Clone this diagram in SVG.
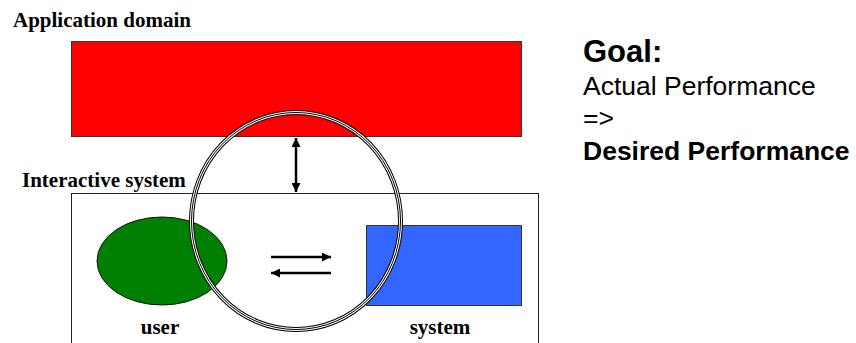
<svg xmlns="http://www.w3.org/2000/svg" width="856" height="343" viewBox="0 0 856 343">
<defs>
<style>
.lbl{font-family:"Liberation Serif","Times New Roman",serif;font-weight:bold;font-size:21px;fill:#000}
.goal{font-family:"Liberation Sans",Arial,sans-serif;fill:#000}
.conn{stroke:#000;stroke-width:2.5;fill:none}
</style>
<marker id="ah" viewBox="0 0 10 10" refX="10" refY="5" markerWidth="11" markerHeight="9" markerUnits="userSpaceOnUse" orient="auto-start-reverse">
<path d="M0,0 L10,5 L0,10 Z" fill="#000"/>
</marker>
</defs>
<rect width="856" height="343" fill="#fff"/>
<text class="lbl" x="13" y="27">Application domain</text>
<g id="application-domain">
<rect x="71.5" y="41.5" width="450" height="95" fill="#ff0000" stroke="#333" stroke-width="1"/>
</g>
<text class="lbl" x="22" y="187">Interactive system</text>
<g id="interactive-system">
<rect x="71.5" y="193.5" width="467" height="160" fill="#fff" stroke="#222" stroke-width="1"/>
</g>
<g id="user">
<ellipse cx="162" cy="261" rx="65" ry="44" fill="#008000" stroke="#111" stroke-width="1"/>
<text class="lbl" x="160" y="334" text-anchor="middle">user</text>
</g>
<g id="system">
<rect x="366.5" y="225.5" width="155" height="80" fill="#3366ff" stroke="#333" stroke-width="1"/>
<text class="lbl" x="440" y="334" text-anchor="middle">system</text>
</g>
<g id="connectors">
<line class="conn" x1="296" y1="138" x2="296" y2="192" marker-start="url(#ah)" marker-end="url(#ah)"/>
<line class="conn" x1="271" y1="257" x2="331" y2="257" marker-end="url(#ah)"/>
<line class="conn" x1="331" y1="273" x2="271" y2="273" marker-end="url(#ah)"/>
</g>
<g id="focus-circle" fill="none">
<ellipse cx="296" cy="221" rx="104.5" ry="108.5" stroke="#000" stroke-width="5"/>
<ellipse cx="296" cy="221" rx="104.5" ry="108.5" stroke="#fff" stroke-width="3"/>
<ellipse cx="296" cy="221" rx="104.5" ry="108.5" stroke="#000" stroke-width="1"/>
</g>
<g id="goal">
<text class="goal" x="583" y="62" font-size="31" font-weight="bold">Goal:</text>
<text class="goal" x="583" y="95" font-size="26.5">Actual Performance</text>
<text class="goal" x="583" y="127" font-size="26.5">=&gt;</text>
<text class="goal" x="583" y="160" font-size="26.5" font-weight="bold">Desired Performance</text>
</g>
</svg>
